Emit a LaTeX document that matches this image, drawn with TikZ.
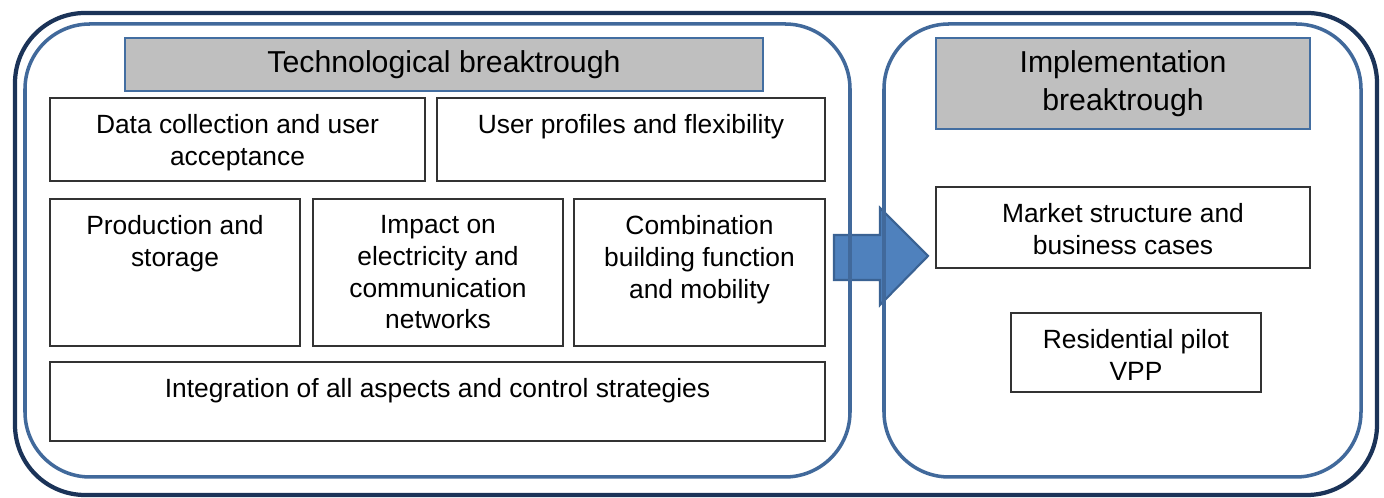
\documentclass[tikz,border=0pt]{standalone}
\usepackage{fontspec}
\setmainfont{Liberation Sans}
\usetikzlibrary{positioning}
\definecolor{navy}{HTML}{1B3358}
\definecolor{panelblue}{HTML}{41699B}
\definecolor{arrowblue}{HTML}{4F81BD}
\definecolor{arrowline}{HTML}{3A6293}
\definecolor{headgray}{HTML}{BFBFBF}
\begin{document}
\begin{tikzpicture}[x=0.01cm,y=-0.01cm,
	cell/.style={draw=black!80,line width=0.5pt},
	head/.style={draw=arrowblue!85!black,fill=headgray,line width=0.4pt},
	txt/.style={inner sep=0pt,align=center,font=\fontsize{7.5}{9}\selectfont},
	htxt/.style={inner sep=0pt,align=center,font=\fontsize{8.6}{10.8}\selectfont}]
	\useasboundingbox (0,0) rectangle (1384,498);
	\path 
	(834,235) coordinate (S1) (880,235) coordinate (S2) (880,208) coordinate (H1) (928,256) coordinate (T)
	(880,305) coordinate (H2) (880,280) coordinate (S3) (834,280) coordinate (S4);
	\draw[fill=arrowblue,draw=arrowline,line width=0.6pt,line join=miter] (S1)--(S2)--(H1)--(T)--(H2)--(S3)--(S4)--cycle;
	\draw[navy,line width=1.2pt,rounded corners=0.7cm] (15,13) rectangle (1377,495);
	\draw[panelblue,line width=1pt,rounded corners=0.65cm] (25,24) rectangle (850,477) (884,24) rectangle (1361,477);
	\draw[head] (125,38) rectangle (763,91) (936,38) rectangle (1310,129);
	\node[htxt] (tb) at (444,64.5) {Technological breaktrough};
	\node[htxt] (ib) at (1123,84) {Implementation\\breaktrough};
	\foreach \n/\xa/\ya/\xb/\yb/\t in {
		dc/50/98/425/181/{Data collection and user\\acceptance},
		up/437/98/825/181/{User profiles and flexibility},
		ps/50/199/300/346/{Production and\\storage},
		ie/313/199/563/346/{Impact on\\electricity and\\communication\\networks},
		cb/574/199/825/346/{Combination\\building function\\and mobility},
		ia/50/362/825/441/{Integration of all aspects and control strategies},
		ms/936/187/1310/268/{Market structure and\\business cases},
		rp/1011/313/1261/392/{Residential pilot\\VPP}}
	{\draw[cell] (\xa,\ya) rectangle (\xb,\yb);
		\node[txt,anchor=north] (\n) at ({(\xa+\xb)/2},\ya+16) {\t};}
\end{tikzpicture}
\end{document}
